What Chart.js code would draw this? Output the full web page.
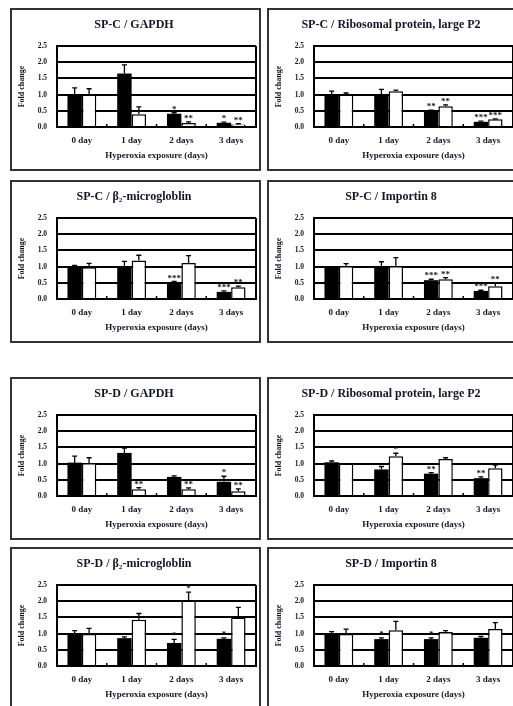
<!DOCTYPE html>
<html>
<head>
<meta charset="utf-8">
<script src="https://cdn.jsdelivr.net/npm/chart.js@4"></script>
<style>
html, body { margin: 0; padding: 0; background: #fff; overflow: hidden; }
body { width: 513px; height: 706px; position: relative; }
.panel { position: absolute; width: 251px; height: 163px; border: 2px solid #333; box-sizing: border-box; overflow: hidden; background: #fff; }
.panel canvas { display: block; }
</style>
</head>
<body>
<div class="panel" style="left:10px;top:8px"><canvas id="c1" width="247" height="159"></canvas></div>
<div class="panel" style="left:267px;top:8px"><canvas id="c2" width="247" height="159"></canvas></div>
<div class="panel" style="left:10px;top:180px"><canvas id="c3" width="247" height="159"></canvas></div>
<div class="panel" style="left:267px;top:180px"><canvas id="c4" width="247" height="159"></canvas></div>
<div class="panel" style="left:10px;top:377px"><canvas id="c5" width="247" height="159"></canvas></div>
<div class="panel" style="left:267px;top:377px"><canvas id="c6" width="247" height="159"></canvas></div>
<div class="panel" style="left:10px;top:547px"><canvas id="c7" width="247" height="159"></canvas></div>
<div class="panel" style="left:267px;top:547px"><canvas id="c8" width="247" height="159"></canvas></div>
<script>
// categories and tick labels
const days = ['0 day', '1 day', '2 days', '3 days'];
const yTickLabels = ['0.0', '0.5', '1.0', '1.5', '2.0', '2.5'];
const xTitle = 'Hyperoxia exposure (days)';
const yTitle = 'Fold change';

// SP-C / GAPDH
const spcGapdhFilled = [1.01, 1.65, 0.41, 0.13];
const spcGapdhFilledErr = [0.20, 0.27, 0.03, 0.02];
const spcGapdhFilledSig = ['', '', '*', '*'];
const spcGapdhOpen = [1.00, 0.39, 0.12, 0.08];
const spcGapdhOpenErr = [0.18, 0.23, 0.04, 0.02];
const spcGapdhOpenSig = ['', '', '**', '**'];

// SP-C / Ribosomal protein, large P2
const spcRplp2Filled = [1.00, 1.00, 0.50, 0.16];
const spcRplp2FilledErr = [0.11, 0.16, 0.02, 0.02];
const spcRplp2FilledSig = ['', '', '**', '***'];
const spcRplp2Open = [1.00, 1.10, 0.64, 0.24];
const spcRplp2OpenErr = [0.05, 0.04, 0.04, 0.01];
const spcRplp2OpenSig = ['', '', '**', '***'];

// SP-C / b2-microgloblin
const spcB2mFilled = [0.99, 1.00, 0.52, 0.22];
const spcB2mFilledErr = [0.05, 0.16, 0.02, 0.03];
const spcB2mFilledSig = ['', '', '***', '***'];
const spcB2mOpen = [0.98, 1.19, 1.11, 0.36];
const spcB2mOpenErr = [0.12, 0.16, 0.23, 0.04];
const spcB2mOpenSig = ['', '', '', '**'];

// SP-C / Importin 8
const spcImp8Filled = [1.00, 1.02, 0.58, 0.25];
const spcImp8FilledErr = [0.00, 0.13, 0.03, 0.02];
const spcImp8FilledSig = ['', '', '***', '***'];
const spcImp8Open = [1.02, 1.02, 0.61, 0.39];
const spcImp8OpenErr = [0.07, 0.26, 0.05, 0.10];
const spcImp8OpenSig = ['', '', '**', '**'];

// SP-D / GAPDH
const spdGapdhFilled = [1.03, 1.33, 0.59, 0.44];
const spdGapdhFilledErr = [0.20, 0.15, 0.03, 0.17];
const spdGapdhFilledSig = ['', '', '', '*'];
const spdGapdhOpen = [1.02, 0.21, 0.21, 0.15];
const spdGapdhOpenErr = [0.16, 0.05, 0.04, 0.07];
const spdGapdhOpenSig = ['', '**', '**', '**'];

// SP-D / Ribosomal protein, large P2
const spdRplp2Filled = [1.04, 0.82, 0.69, 0.55];
const spdRplp2FilledErr = [0.04, 0.09, 0.03, 0.04];
const spdRplp2FilledSig = ['', '', '**', '**'];
const spdRplp2Open = [1.00, 1.23, 1.14, 0.86];
const spdRplp2OpenErr = [0.00, 0.09, 0.04, 0.09];
const spdRplp2OpenSig = ['', '*', '', ''];

// SP-D / b2-microgloblin
const spdB2mFilled = [0.99, 0.86, 0.71, 0.84];
const spdB2mFilledErr = [0.10, 0.04, 0.11, 0.03];
const spdB2mFilledSig = ['', '', '*', '*'];
const spdB2mOpen = [0.99, 1.43, 2.02, 1.50];
const spdB2mOpenErr = [0.17, 0.19, 0.26, 0.31];
const spdB2mOpenSig = ['', '', '*', ''];

// SP-D / Importin 8
const spdImp8Filled = [0.99, 0.83, 0.83, 0.87];
const spdImp8FilledErr = [0.07, 0.04, 0.04, 0.04];
const spdImp8FilledSig = ['', '*', '*', ''];
const spdImp8Open = [0.99, 1.10, 1.05, 1.14];
const spdImp8OpenErr = [0.15, 0.28, 0.04, 0.20];
const spdImp8OpenSig = ['', '', '', ''];

const textColor = '#15152a';
const serif = 'Liberation Serif, Times New Roman, serif';

// frame, small category ticks, error bars and asterisks
const extras = {
    id: 'extras',
    afterDatasetsDraw(chart) {
        const ctx = chart.ctx;
        const x = chart.scales.x;
        const y = chart.scales.y;
        const a = chart.chartArea;
        ctx.save();
        ctx.strokeStyle = '#000';
        ctx.lineWidth = 2;
        ctx.beginPath();
        ctx.moveTo(a.right, a.top);
        ctx.lineTo(a.right, a.bottom);
        ctx.stroke();

        ctx.lineWidth = 1.5;
        for (let i = 1; i < days.length; i++) {
            const xb = (x.getPixelForValue(i - 1) + x.getPixelForValue(i)) / 2;
            ctx.beginPath();
            ctx.moveTo(xb, a.bottom);
            ctx.lineTo(xb, a.bottom - 3);
            ctx.stroke();
        }

        ctx.fillStyle = textColor;
        ctx.font = 'bold 9px ' + serif;
        ctx.textAlign = 'center';
        ctx.textBaseline = 'alphabetic';
        chart.data.datasets.forEach((ds, di) => {
            const meta = chart.getDatasetMeta(di);
            meta.data.forEach((bar, i) => {
                const top = y.getPixelForValue(ds.data[i] + ds.err[i]);
                if (ds.err[i] > 0) {
                    ctx.strokeStyle = '#000';
                    ctx.lineWidth = 1.3;
                    ctx.beginPath();
                    ctx.moveTo(bar.x, bar.y);
                    ctx.lineTo(bar.x, top);
                    ctx.moveTo(bar.x - 2.5, top);
                    ctx.lineTo(bar.x + 2.5, top);
                    ctx.stroke();
                }
                if (ds.sig[i]) {
                    ctx.fillText(ds.sig[i], bar.x, top - 1);
                }
            });
        });
        ctx.restore();
    }
};

function makePanel(id, title, filled, filledErr, filledSig, open, openErr, openSig) {
    const ctx = document.getElementById(id);
    return new Chart(ctx, {
        type: 'bar',
        data: {
            labels: days,
            datasets: [{
                    data: filled,
                    err: filledErr,
                    sig: filledSig,
                    backgroundColor: '#000',
                    borderColor: '#000',
                    borderWidth: 0
                },
                {
                    data: open,
                    err: openErr,
                    sig: openSig,
                    backgroundColor: '#fff',
                    borderColor: '#000',
                    borderWidth: 1.5
                }
            ]
        },
        options: {
            responsive: false,
            animation: false,
            categoryPercentage: 0.58,
            barPercentage: 1.0,
            layout: {
                padding: { left: 0, right: 3, top: 0, bottom: 7.6 }
            },
            plugins: {
                legend: { display: false },
                tooltip: { enabled: false },
                title: {
                    display: true,
                    text: title,
                    color: textColor,
                    font: { family: serif, size: 12, weight: 'bold' },
                    padding: { top: 7.8, bottom: 13.8 }
                }
            },
            scales: {
                x: {
                    offset: true,
                    afterFit: s => { s.height = 34.4; },
                    grid: { display: false, drawTicks: false },
                    border: { display: true, color: '#000', width: 2 },
                    ticks: {
                        padding: 8.6,
                        color: textColor,
                        font: { family: serif, size: 9, weight: 'bold' }
                    },
                    title: {
                        display: true,
                        text: xTitle,
                        color: textColor,
                        font: { family: serif, size: 9, weight: 'bold' },
                        padding: { top: 4, bottom: 0 }
                    }
                },
                y: {
                    min: 0,
                    max: 2.5,
                    afterFit: s => { s.width = 45; },
                    grid: { color: '#000', lineWidth: 2, drawTicks: false },
                    border: { display: true, color: '#000', width: 2 },
                    ticks: {
                        stepSize: 0.5,
                        padding: 10,
                        autoSkip: false,
                        color: textColor,
                        font: { family: serif, size: 7.5, weight: 'bold' },
                        callback: (v, i) => yTickLabels[i]
                    },
                    title: {
                        display: true,
                        text: yTitle,
                        color: textColor,
                        font: { family: serif, size: 8, weight: 'bold' },
                        padding: { top: 5.2, bottom: 0 }
                    }
                }
            }
        },
        plugins: [extras]
    });
}

makePanel('c1', 'SP-C / GAPDH', spcGapdhFilled, spcGapdhFilledErr, spcGapdhFilledSig, spcGapdhOpen, spcGapdhOpenErr, spcGapdhOpenSig);
makePanel('c2', 'SP-C / Ribosomal protein, large P2', spcRplp2Filled, spcRplp2FilledErr, spcRplp2FilledSig, spcRplp2Open, spcRplp2OpenErr, spcRplp2OpenSig);
makePanel('c3', 'SP-C / \u03b2\u2082-microgloblin', spcB2mFilled, spcB2mFilledErr, spcB2mFilledSig, spcB2mOpen, spcB2mOpenErr, spcB2mOpenSig);
makePanel('c4', 'SP-C / Importin 8', spcImp8Filled, spcImp8FilledErr, spcImp8FilledSig, spcImp8Open, spcImp8OpenErr, spcImp8OpenSig);
makePanel('c5', 'SP-D / GAPDH', spdGapdhFilled, spdGapdhFilledErr, spdGapdhFilledSig, spdGapdhOpen, spdGapdhOpenErr, spdGapdhOpenSig);
makePanel('c6', 'SP-D / Ribosomal protein, large P2', spdRplp2Filled, spdRplp2FilledErr, spdRplp2FilledSig, spdRplp2Open, spdRplp2OpenErr, spdRplp2OpenSig);
makePanel('c7', 'SP-D / \u03b2\u2082-microgloblin', spdB2mFilled, spdB2mFilledErr, spdB2mFilledSig, spdB2mOpen, spdB2mOpenErr, spdB2mOpenSig);
makePanel('c8', 'SP-D / Importin 8', spdImp8Filled, spdImp8FilledErr, spdImp8FilledSig, spdImp8Open, spdImp8OpenErr, spdImp8OpenSig);
</script>
</body>
</html>
